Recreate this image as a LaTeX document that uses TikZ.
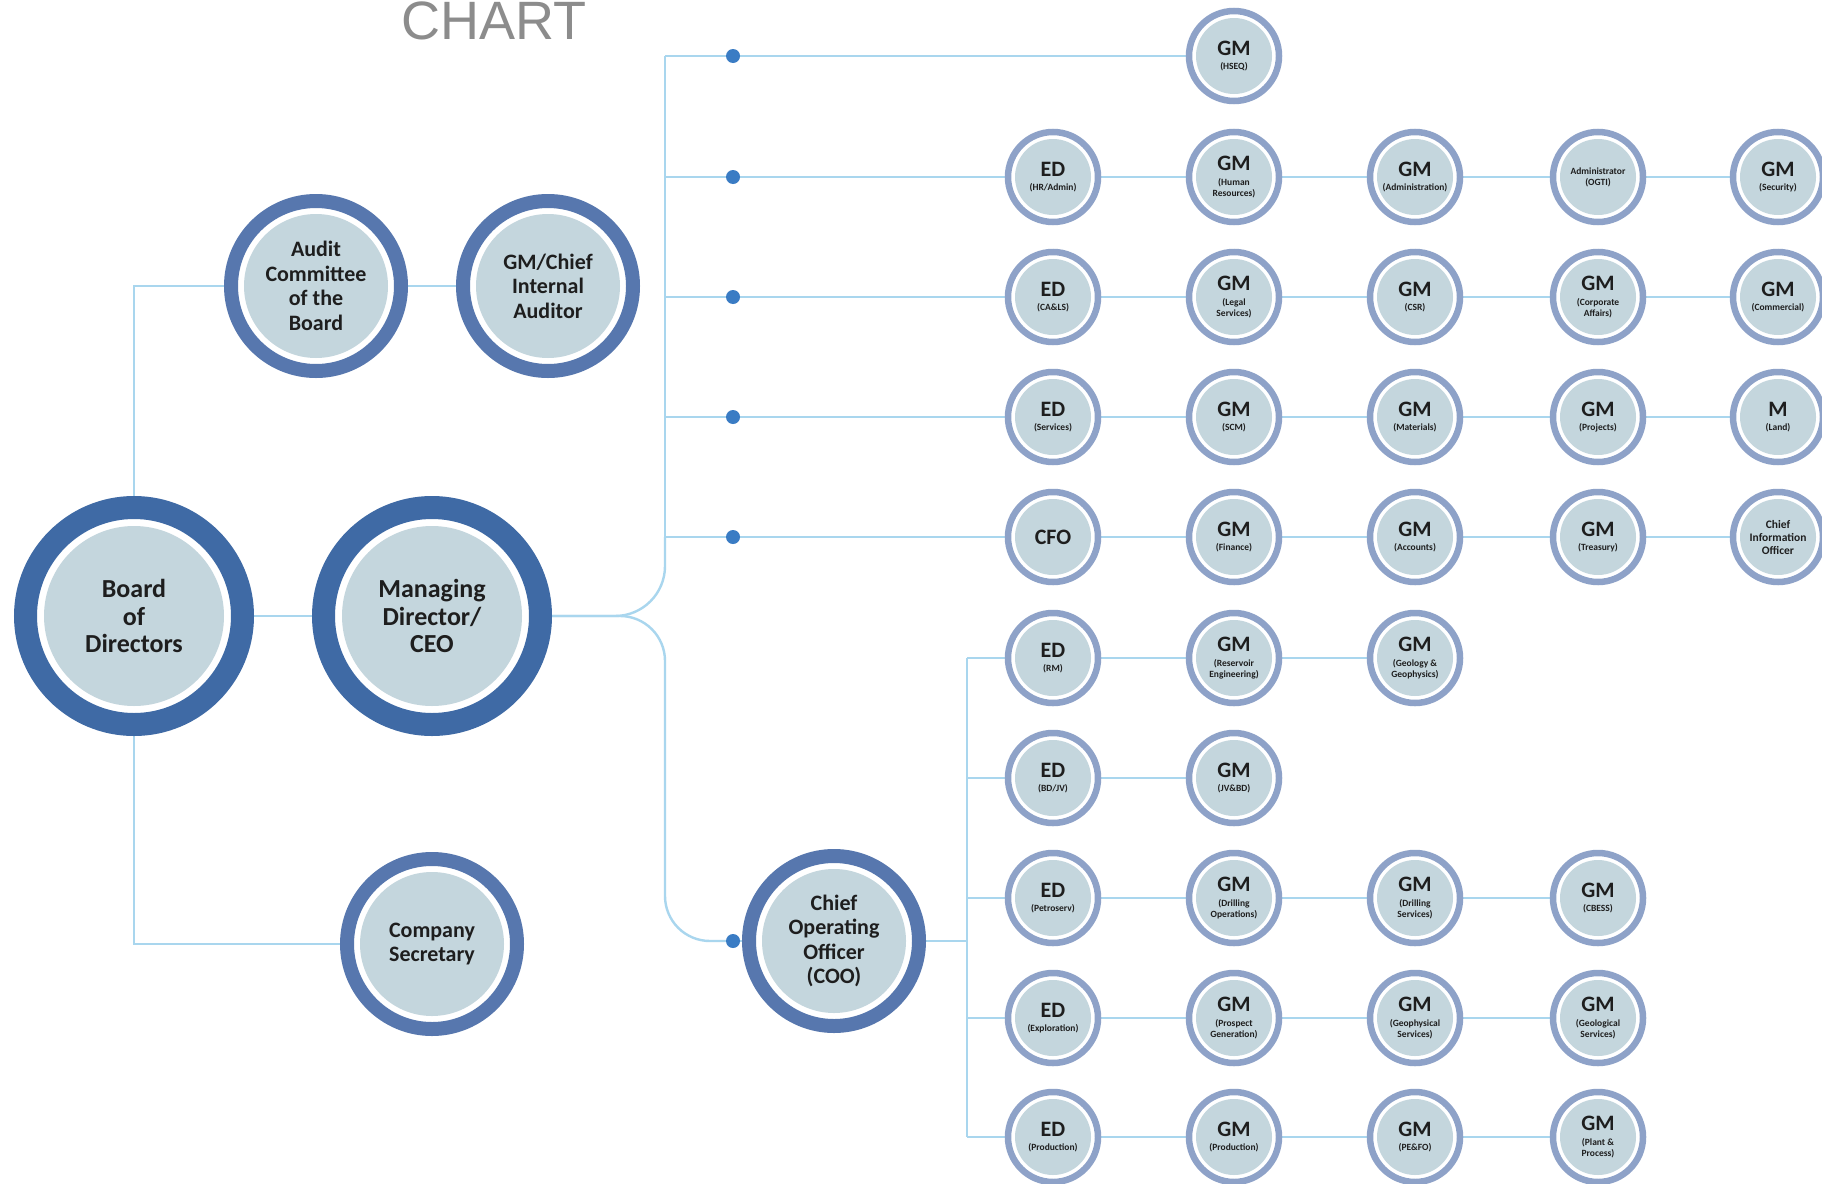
\documentclass[tikz,border=0pt]{standalone}
\usepackage{fontspec}
\setmainfont{Carlito}
\newfontfamily\titlefont{Liberation Sans}
\usetikzlibrary{backgrounds}

\definecolor{linec}{HTML}{A9D6EE}
\definecolor{dotc}{HTML}{3A7CC4}
\definecolor{bigring}{HTML}{3F6AA5}
\definecolor{medring}{HTML}{5777AE}
\definecolor{smallring}{HTML}{8EA2C8}
\definecolor{innerc}{HTML}{C4D6DD}
\definecolor{textc}{HTML}{1E1E1E}
\definecolor{titlec}{HTML}{8C8C8C}

\newcommand\hd[1]{{\fontsize{22}{22}\selectfont #1}\\[4pt]}

\tikzset{
  orgc/.style n args={3}{circle, inner sep=0pt, minimum size=#1, line width=#2,
     fill=white, text=textc, align=center,
     path picture={\fill[innerc] (path picture bounding box.center) circle (#3);}},
  bigc/.style={orgc={217pt}{23pt}{90pt}, draw=bigring, font=\bfseries\fontsize{26}{27.5}\selectfont},
  medc/.style={orgc={170pt}{14pt}{72pt}, draw=medring, font=\bfseries\fontsize{22}{24.5}\selectfont},
  smallc/.style={orgc={90pt}{6.5pt}{38pt}, draw=smallring, font=\bfseries\fontsize{9.5}{10.8}\selectfont},
  conn/.style={draw=linec, line width=2.4pt},
  dotn/.style={circle, fill=dotc, inner sep=0pt, minimum size=14pt},
  titlen/.style={font=\titlefont\fontsize{54}{54}\selectfont, text=titlec, anchor=base},
}

\begin{document}
\begin{tikzpicture}[x=1pt,y=-1pt]
\useasboundingbox (0,0) rectangle (1822,1183);

% title
\node[titlen] (title) at (494,39.5) {CHART};

% left part
\node[bigc] (board) at (134,616) {Board\\of\\Directors};
\node[bigc] (md) at (432,616) {Managing\\Director/\\CEO};
\node[medc] (audit) at (316,286) {Audit\\Committee\\of the\\Board};
\node[medc] (cia) at (548,286) {GM/Chief\\Internal\\Auditor};
\node[medc] (sec) at (432,944) {Company\\Secretary};
\node[medc] (coo) at (834,941) {Chief\\Operating\\Officer\\(COO)};

% junction coordinates
\coordinate (t1) at (665,56);
\coordinate (t2) at (665,177);
\coordinate (t3) at (665,297);
\coordinate (t4) at (665,417);
\coordinate (t5) at (665,537);
\coordinate (jmd) at (665,616);
\coordinate (jcoo) at (665,941);
\coordinate (c6) at (967,658);
\coordinate (c7) at (967,778);
\coordinate (c8) at (967,898);
\coordinate (c9) at (967,1018);
\coordinate (c10) at (967,1137);
\coordinate (cj) at (967,941);

% dots
\node[dotn] (d1) at (733,56) {};
\node[dotn] (d2) at (733,177) {};
\node[dotn] (d3) at (733,297) {};
\node[dotn] (d4) at (733,417) {};
\node[dotn] (d5) at (733,537) {};
\node[dotn] (d6) at (733,941) {};

% row 1
\node[smallc] (hseq) at (1234,56) {\hd{GM}(HSEQ)};
% row 2
\node[smallc] (r2a) at (1053,177) {\hd{ED}(HR/Admin)};
\node[smallc] (r2b) at (1234,177) {\hd{GM}(Human\\Resources)};
\node[smallc] (r2c) at (1415,177) {\hd{GM}(Administration)};
\node[smallc, font=\bfseries\fontsize{9.5}{11}\selectfont] (r2d) at (1598,177) {Administrator\\(OGTI)};
\node[smallc] (r2e) at (1778,177) {\hd{GM}(Security)};
% row 3
\node[smallc] (r3a) at (1053,297) {\hd{ED}(CA\&LS)};
\node[smallc] (r3b) at (1234,297) {\hd{GM}(Legal\\Services)};
\node[smallc] (r3c) at (1415,297) {\hd{GM}(CSR)};
\node[smallc] (r3d) at (1598,297) {\hd{GM}(Corporate\\Affairs)};
\node[smallc] (r3e) at (1778,297) {\hd{GM}(Commercial)};
% row 4
\node[smallc] (r4a) at (1053,417) {\hd{ED}(Services)};
\node[smallc] (r4b) at (1234,417) {\hd{GM}(SCM)};
\node[smallc] (r4c) at (1415,417) {\hd{GM}(Materials)};
\node[smallc] (r4d) at (1598,417) {\hd{GM}(Projects)};
\node[smallc] (r4e) at (1778,417) {\hd{M}(Land)};
% row 5
\node[smallc, font=\bfseries\fontsize{22}{22}\selectfont] (r5a) at (1053,537) {CFO};
\node[smallc] (r5b) at (1234,537) {\hd{GM}(Finance)};
\node[smallc] (r5c) at (1415,537) {\hd{GM}(Accounts)};
\node[smallc] (r5d) at (1598,537) {\hd{GM}(Treasury)};
\node[smallc, font=\bfseries\fontsize{11.5}{13}\selectfont] (r5e) at (1778,537) {Chief\\Information\\Officer};
% row 6
\node[smallc] (r6a) at (1053,658) {\hd{ED}(RM)};
\node[smallc] (r6b) at (1234,658) {\hd{GM}(Reservoir\\Engineering)};
\node[smallc] (r6c) at (1415,658) {\hd{GM}(Geology \&\\Geophysics)};
% row 7
\node[smallc] (r7a) at (1053,778) {\hd{ED}(BD/JV)};
\node[smallc] (r7b) at (1234,778) {\hd{GM}(JV\&BD)};
% row 8
\node[smallc] (r8a) at (1053,898) {\hd{ED}(Petroserv)};
\node[smallc] (r8b) at (1234,898) {\hd{GM}(Drilling\\Operations)};
\node[smallc] (r8c) at (1415,898) {\hd{GM}(Drilling\\Services)};
\node[smallc] (r8d) at (1598,898) {\hd{GM}(CBESS)};
% row 9
\node[smallc] (r9a) at (1053,1018) {\hd{ED}(Exploration)};
\node[smallc] (r9b) at (1234,1018) {\hd{GM}(Prospect\\Generation)};
\node[smallc] (r9c) at (1415,1018) {\hd{GM}(Geophysical\\Services)};
\node[smallc] (r9d) at (1598,1018) {\hd{GM}(Geological\\Services)};
% row 10
\node[smallc] (r10a) at (1053,1137) {\hd{ED}(Production)};
\node[smallc] (r10b) at (1234,1137) {\hd{GM}(Production)};
\node[smallc] (r10c) at (1415,1137) {\hd{GM}(PE\&FO)};
\node[smallc] (r10d) at (1598,1137) {\hd{GM}(Plant \&\\Process)};

\begin{scope}[on background layer]
\fill[white] (0,0) rectangle (1822,1183);
% board connections
\draw[conn] (board.north) |- (audit.west);
\draw[conn] (audit) -- (cia);
\draw[conn] (board.south) |- (sec.west);
\draw[conn] (board) -- (md);
% MD to trunk
\draw[conn] (t1) -- (t5);
\draw[conn, rounded corners=50pt] (md.east) -- (jmd) -- (t5);
\draw[conn, rounded corners=45pt] (md.east) -- (jmd) -- (jcoo) -- (d6.center);
\draw[conn] (d6) -- (coo);
% top rows
\draw[conn] (t1) -- (d1) -- (hseq);
\draw[conn] (t2) -- (d2) -- (r2a) -- (r2b) -- (r2c) -- (r2d) -- (r2e);
\draw[conn] (t3) -- (d3) -- (r3a) -- (r3b) -- (r3c) -- (r3d) -- (r3e);
\draw[conn] (t4) -- (d4) -- (r4a) -- (r4b) -- (r4c) -- (r4d) -- (r4e);
\draw[conn] (t5) -- (d5) -- (r5a) -- (r5b) -- (r5c) -- (r5d) -- (r5e);
% COO branch
\draw[conn] (coo) -- (cj);
\draw[conn] (c6) -- (c10);
\draw[conn] (c6) -- (r6a) -- (r6b) -- (r6c);
\draw[conn] (c7) -- (r7a) -- (r7b);
\draw[conn] (c8) -- (r8a) -- (r8b) -- (r8c) -- (r8d);
\draw[conn] (c9) -- (r9a) -- (r9b) -- (r9c) -- (r9d);
\draw[conn] (c10) -- (r10a) -- (r10b) -- (r10c) -- (r10d);
\end{scope}
\end{tikzpicture}
\end{document}
